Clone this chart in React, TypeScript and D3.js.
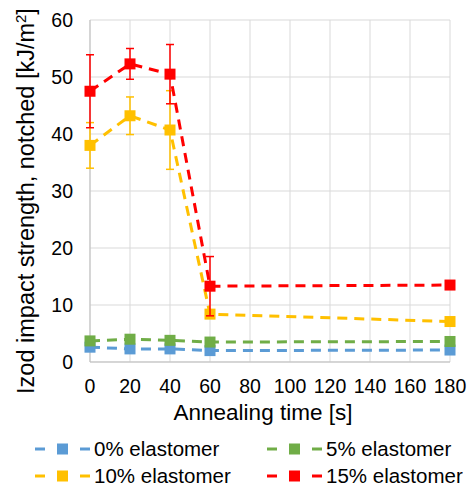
import React, { useEffect, useRef } from "react";
import * as d3 from "d3";

const categories = ["0", "20", "40", "60", "80", "100", "120", "140", "160", "180"];
const pointTimes = ["0", "20", "40", "60", "180"];
const yTicks = [0, 10, 20, 30, 40, 50, 60];

const seriesNames = ["0% elastomer", "5% elastomer", "10% elastomer", "15% elastomer"];
const seriesColors = ["#5b9bd5", "#70ad47", "#ffc000", "#ff0000"];

const values0 = [2.6, 2.3, 2.3, 2.0, 2.1];
const values5 = [3.7, 4.0, 3.8, 3.5, 3.6];
const values10 = [38.0, 43.2, 40.7, 8.4, 7.1];
const values15 = [47.5, 52.3, 50.5, 13.3, 13.5];

const err0 = [0, 0, 0, 0, 0];
const err5 = [0, 0, 0, 0, 0];
const err10 = [4.0, 3.3, 6.9, 0, 0];
const err15 = [6.4, 2.7, 5.2, 5.2, 0];

const W = 471, H = 486;
const margin = { top: 20, left: 90, right: 21, bottom: 124 };

export default function App() {
  const ref = useRef<SVGSVGElement>(null);

  useEffect(() => {
    const svg = d3.select(ref.current);
    svg.selectAll("*").remove();

    const x = d3.scalePoint<string>()
      .domain(categories)
      .range([margin.left, W - margin.right])
      .padding(0);
    const y = d3.scaleLinear().domain([0, 60]).range([H - margin.bottom, margin.top]);

    const font = "'Liberation Sans', Arial, sans-serif";

    // gridlines
    svg.append("g").selectAll("line").data(yTicks).enter().append("line")
      .attr("x1", margin.left).attr("x2", W - margin.right)
      .attr("y1", d => y(d)).attr("y2", d => y(d))
      .attr("stroke", "#d9d9d9").attr("stroke-width", 1);
    svg.append("g").selectAll("line").data(categories).enter().append("line")
      .attr("x1", d => x(d)!).attr("x2", d => x(d)!)
      .attr("y1", y(0)).attr("y2", y(60))
      .attr("stroke", "#d9d9d9").attr("stroke-width", 1);

    // axis lines
    svg.append("line").attr("x1", margin.left).attr("x2", W - margin.right)
      .attr("y1", y(0)).attr("y2", y(0)).attr("stroke", "#bfbfbf");
    svg.append("line").attr("x1", margin.left).attr("x2", margin.left)
      .attr("y1", y(0)).attr("y2", y(60)).attr("stroke", "#bfbfbf");

    // tick labels
    svg.append("g").selectAll("text").data(yTicks).enter().append("text")
      .attr("x", 73).attr("y", d => y(d) + 7)
      .attr("text-anchor", "end")
      .style("font", `19.5px ${font}`).attr("fill", "#000")
      .text(d => d);
    svg.append("g").selectAll("text").data(categories).enter().append("text")
      .attr("x", d => x(d)!).attr("y", 393)
      .attr("text-anchor", "middle")
      .style("font", `19.5px ${font}`).attr("fill", "#000")
      .text(d => d);

    // axis titles
    svg.append("text")
      .attr("x", 263).attr("y", 420)
      .attr("text-anchor", "middle")
      .style("font", `22.5px ${font}`)
      .text("Annealing time [s]");

    const yt = svg.append("text")
      .attr("text-anchor", "middle")
      .attr("transform", "translate(34,201)rotate(-90)")
      .style("font", `23.5px ${font}`);
    yt.append("tspan").text("Izod impact strength, notched [kJ/m");
    yt.append("tspan").attr("dy", -8).style("font-size", "15px").text("2");
    yt.append("tspan").attr("dy", 8).text("]");

    const allValues = [values0, values5, values10, values15];
    const allErrors = [err0, err5, err10, err15];

    const line = d3.line<number>()
      .x((d, i) => x(pointTimes[i])!)
      .y(d => y(d));

    allValues.forEach((vals, s) => {
      const color = seriesColors[s];
      const g = svg.append("g");

      g.append("path")
        .datum(vals)
        .attr("fill", "none")
        .attr("stroke", color)
        .attr("stroke-width", 3)
        .attr("stroke-dasharray", "10,7")
        .attr("d", line);

      // error bars
      const errs = allErrors[s];
      vals.forEach((v, i) => {
        if (!errs[i]) return;
        const cx = x(pointTimes[i])!;
        g.append("line").attr("x1", cx).attr("x2", cx)
          .attr("y1", y(v - errs[i])).attr("y2", y(v + errs[i]))
          .attr("stroke", color).attr("stroke-width", 1.5);
        [v - errs[i], v + errs[i]].forEach(e => {
          g.append("line").attr("x1", cx - 4).attr("x2", cx + 4)
            .attr("y1", y(e)).attr("y2", y(e))
            .attr("stroke", color).attr("stroke-width", 1.5);
        });
      });

      g.selectAll("rect").data(vals).enter().append("rect")
        .attr("x", (d, i) => x(pointTimes[i])! - 5.5)
        .attr("y", d => y(d) - 5.5)
        .attr("width", 11).attr("height", 11)
        .attr("fill", color);
    });

    // legend
    const legendPos = [[35, 449], [267, 449], [35, 476], [267, 476]];
    seriesNames.forEach((name, s) => {
      const [lx, ly] = legendPos[s];
      const g = svg.append("g");
      [[lx, lx + 10], [lx + 45, lx + 55]].forEach(([a, b]) => {
        g.append("line").attr("x1", a).attr("x2", b).attr("y1", ly).attr("y2", ly)
          .attr("stroke", seriesColors[s]).attr("stroke-width", 3);
      });
      g.append("rect").attr("x", lx + 22).attr("y", ly - 5.5)
        .attr("width", 11).attr("height", 11).attr("fill", seriesColors[s]);
      g.append("text").attr("x", lx + 59).attr("y", ly + 7)
        .style("font", `20.5px ${font}`)
        .text(name);
    });
  }, []);

  return (
    <svg ref={ref} width={W} height={H} style={{ position: "absolute", left: 0, top: 0, background: "#fff" }} />
  );
}
